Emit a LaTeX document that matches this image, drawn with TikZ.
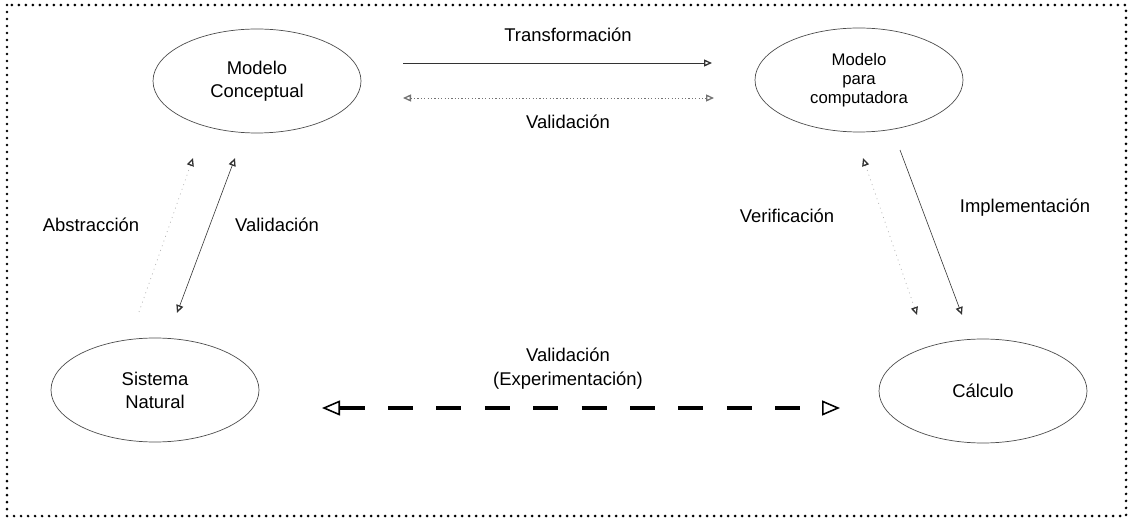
\documentclass[tikz,border=0pt]{standalone}
\usepackage{fontspec}
\setmainfont{Liberation Sans}
\usetikzlibrary{shapes.geometric,arrows.meta}
\begin{document}
\begin{tikzpicture}[x=1bp,y=-1bp,
  >={Triangle[open, length=8bp, width=7bp, line width=1.3pt]},
  lbl/.style={font=\fontsize{18.5}{22}\selectfont, inner sep=0pt, align=center},
  blob/.style={ellipse, draw=black!70, line width=0.7pt, minimum width=208bp,
    minimum height=104bp, inner sep=0pt, align=center,
    font=\fontsize{18.5}{23}\selectfont},
  solidarrow/.style={draw=black!80, line width=0.6pt},
  dotarrow/.style={draw=black!55, line width=0.8pt, dash pattern=on 1.2pt off 2.2pt},
  faintarrow/.style={draw=black!30, line width=0.7pt, dash pattern=on 1pt off 4pt},
  heavyarrow/.style={draw=black, line width=4.5bp, dash pattern=on 25bp off 23.4bp},
  bigtip/.style={arrows={Triangle[open, length=18bp, width=15bp, line width=1.6pt]-Triangle[open, length=18bp, width=15bp, line width=1.6pt]}},
]
% page and dotted frame
\useasboundingbox (0,0) rectangle (1131,521);
\draw[line width=3pt, line cap=round, dash pattern=on 0pt off 7bp]
  (7,5) rectangle (1126,516);

% states
\node[blob] (mc) at (257,81) {Modelo\\Conceptual};
\node[blob, font=\fontsize{16.8}{19}\selectfont] (mpc) at (859,80) {Modelo\\para\\computadora};
\node[blob] (sn) at (155,390) {Sistema\\Natural};
\node[blob] (calc) at (983,391) {C\'alculo};

% connector end points
\coordinate (tA) at (403,63);   \coordinate (tB) at (712,63);
\coordinate (vA) at (403,98);   \coordinate (vB) at (714,98);
\coordinate (aA) at (139,312);  \coordinate (aB) at (193,158);
\coordinate (lA) at (235,158);  \coordinate (lB) at (177,313);
\coordinate (rA) at (863,158);  \coordinate (rB) at (917,315);
\coordinate (iA) at (900,150);  \coordinate (iB) at (962,315);
\coordinate (eA) at (322,408);  \coordinate (eB) at (840,408);

% connectors
\draw[solidarrow, ->] (tA) -- (tB);
\draw[dotarrow, <->] (vA) -- (vB);
\draw[faintarrow, -{Triangle[open, length=8bp, width=7bp, line width=1.3pt, color=black!80]}] (aA) -- (aB);
\draw[solidarrow, <->] (lA) -- (lB);
\draw[faintarrow, {Triangle[open, length=8bp, width=7bp, line width=1.3pt, color=black!80]}-{Triangle[open, length=8bp, width=7bp, line width=1.3pt, color=black!80]}] (rA) -- (rB);
\draw[solidarrow, ->] (iA) -- (iB);
\draw[heavyarrow, bigtip] (eA) -- (eB);

% connector labels
\node[lbl] (ltrans) at (568,35) {Transformaci\'on};
\node[lbl] (lvalt) at (568,122) {Validaci\'on};
\node[lbl] (labs) at (91,225) {Abstracci\'on};
\node[lbl] (lvall) at (277,225) {Validaci\'on};
\node[lbl] (lver) at (787,216) {Verificaci\'on};
\node[lbl] (limp) at (1025,208) {Implementaci\'on};
\node[lbl, font=\fontsize{18.5}{24}\selectfont] (lexp) at (568,369) {Validaci\'on\\(Experimentaci\'on)};
\end{tikzpicture}
\end{document}
